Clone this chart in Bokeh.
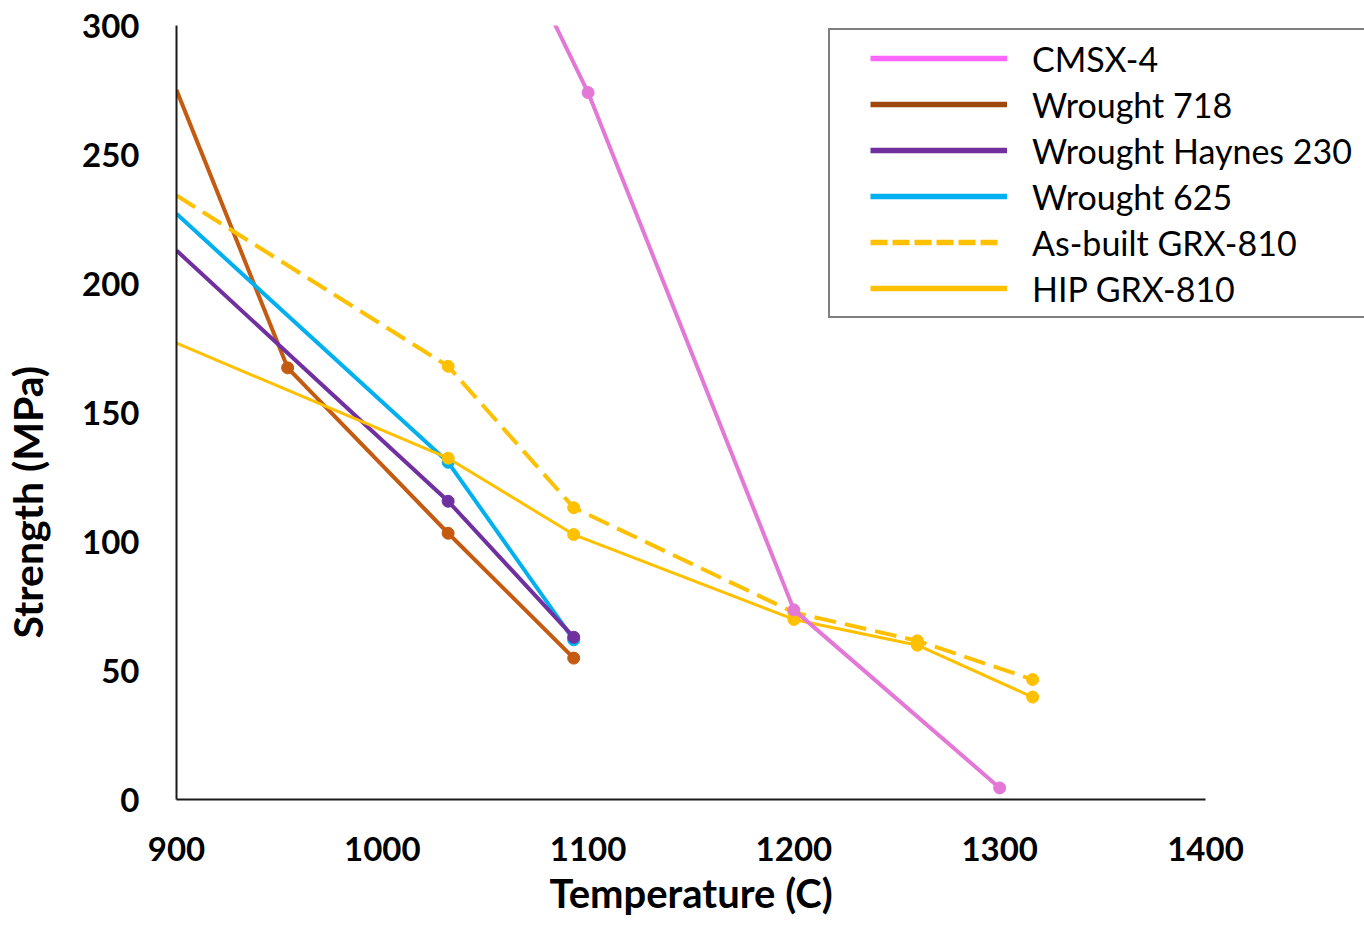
import math
from bokeh.plotting import figure
from bokeh.layouts import row
from bokeh.models import FixedTicker, Legend, LegendItem, Label, Range1d, Title
from bokeh.embed import file_html
from bokeh.resources import INLINE

# ---- data ----
temps_cmsx = [1000, 1100, 1200, 1300]
str_cmsx = [438, 274, 73.5, 4.5]
temps_718 = [900, 954, 1032, 1093]
str_718 = [275, 167.3, 103.2, 54.8]
temps_230 = [900, 1032, 1093]
str_230 = [212.8, 115.6, 62.9]
temps_625 = [900, 1032, 1093]
str_625 = [227, 130.7, 61.9]
temps_grx = [900, 1032, 1093, 1200, 1260, 1316]
str_asbuilt = [234.1, 167.9, 113.1, 72.5, 61.5, 46.5]
str_hip = [176.9, 132.3, 102.7, 69.8, 59.8, 39.7]

x_ticks = [900, 1000, 1100, 1200, 1300, 1400]
y_ticks = [0, 50, 100, 150, 200, 250, 300]

legend_names = ["CMSX-4", "Wrought 718", "Wrought Haynes 230", "Wrought 625",
                "As-built GRX-810", "HIP GRX-810"]

FONT = "Lato"

# layout (pixels)
W, H = 1364, 925
LAB_W = 60
FRAME_L, FRAME_R_AXIS, FRAME_T, FRAME_B = 176, 1205, 25, 799
frame_w = W - FRAME_L
x_end = x_ticks[0] + (x_ticks[-1] - x_ticks[0]) * frame_w / (FRAME_R_AXIS - FRAME_L)

p = figure(width=W - LAB_W, height=H, output_backend="svg", toolbar_location=None,
           x_range=Range1d(x_ticks[0], x_end), y_range=Range1d(y_ticks[0], y_ticks[-1]),
           min_border_left=FRAME_L - LAB_W, min_border_right=0, min_border_top=FRAME_T,
           min_border_bottom=H - FRAME_B)
p.outline_line_color = None
p.grid.visible = False
p.background_fill_color = "white"
p.border_fill_color = "white"

for ax in (p.xaxis[0], p.yaxis[0]):
    ax.axis_line_color = "#1a1a1a"
    ax.axis_line_width = 2
    ax.major_tick_line_color = None
    ax.minor_tick_line_color = None
    ax.major_label_text_font = FONT
    ax.major_label_text_font_style = "bold"
    ax.major_label_text_font_size = "33px"
    ax.major_label_text_color = "black"

p.xaxis.ticker = FixedTicker(ticks=x_ticks)
p.yaxis.ticker = FixedTicker(ticks=y_ticks)
p.xaxis.bounds = (x_ticks[0], x_ticks[-1])
p.xaxis.major_label_standoff = 31
p.yaxis.major_label_standoff = 31

# x-axis title, centred under the 900-1400 axis
xt = Title(text="Temperature (C)", align="left", offset=373, standoff=10,
           vertical_align="top", text_font=FONT, text_font_style="bold",
           text_font_size="40px", text_color="black")
p.add_layout(xt, "below")

c_cmsx = "#E378D6"
c_718 = "#C55A11"
c_230 = "#7030A0"
c_625 = "#00B0F0"
c_grx = "#FFC000"

# ---- series ----
p.line(temps_718, str_718, line_color=c_718, line_width=4)
p.scatter(temps_718[1:], str_718[1:], size=12, color=c_718)
p.line(temps_625, str_625, line_color=c_625, line_width=4)
p.scatter(temps_625[1:], str_625[1:], size=12, color=c_625)
p.line(temps_230, str_230, line_color=c_230, line_width=4)
p.scatter(temps_230[1:], str_230[1:], size=12, color=c_230)
p.line(temps_grx, str_asbuilt, line_color=c_grx, line_width=4, line_dash="22 9")
p.scatter(temps_grx[1:], str_asbuilt[1:], size=12, color=c_grx)
p.line(temps_grx, str_hip, line_color=c_grx, line_width=3)
p.scatter(temps_grx[1:], str_hip[1:], size=12, color=c_grx)
p.line(temps_cmsx, str_cmsx, line_color=c_cmsx, line_width=4)
p.scatter(temps_cmsx[1:], str_cmsx[1:], size=12, color=c_cmsx)

# ---- legend (proxy renderers, nothing drawn in the plot) ----
leg_colors = ["#FF66FF", "#9E480E", "#7030A0", "#00B0F0", "#FFC000", "#FFC000"]
solid = "0 35 137 1000"
dashed = "0 35 17 5 17 5 17 5 17 5 17 5 17 1000"
leg_dash = [solid, solid, solid, solid, dashed, solid]
nan = float("nan")
items = []
for name, col, dsh in zip(legend_names, leg_colors, leg_dash):
    r = p.line([nan, nan], [nan, nan], line_color=col, line_width=5.5, line_dash=dsh)
    items.append(LegendItem(label=name, renderers=[r]))

legend = Legend(items=items, location=(828 - FRAME_L, 481), padding=5, spacing=0,
                label_height=46, glyph_height=46, glyph_width=172,
                label_standoff=25, label_width=400, margin=0,
                label_text_font=FONT, label_text_font_size="34px",
                label_text_color="black", border_line_color="black",
                border_line_width=2, background_fill_alpha=1)
p.add_layout(legend, "center")

# ---- y-axis title in a narrow side figure ----
lab = figure(width=LAB_W, height=H, output_backend="svg", toolbar_location=None,
             x_range=Range1d(0, 1), y_range=Range1d(0, 1),
             x_axis_type=None, y_axis_type=None,
             min_border_left=0, min_border_right=0, min_border_top=0, min_border_bottom=0)
lab.outline_line_color = None
lab.grid.visible = False
lab.add_layout(Label(x=27, y=161, x_units="screen", y_units="screen",
                     text="Strength (MPa)", angle=math.pi / 2,
                     text_align="left", text_baseline="middle",
                     text_font=FONT, text_font_style="bold", text_font_size="41px",
                     text_color="black"))

layout = row(lab, p, spacing=0)
open("out.html", "w").write(file_html(layout, INLINE))
